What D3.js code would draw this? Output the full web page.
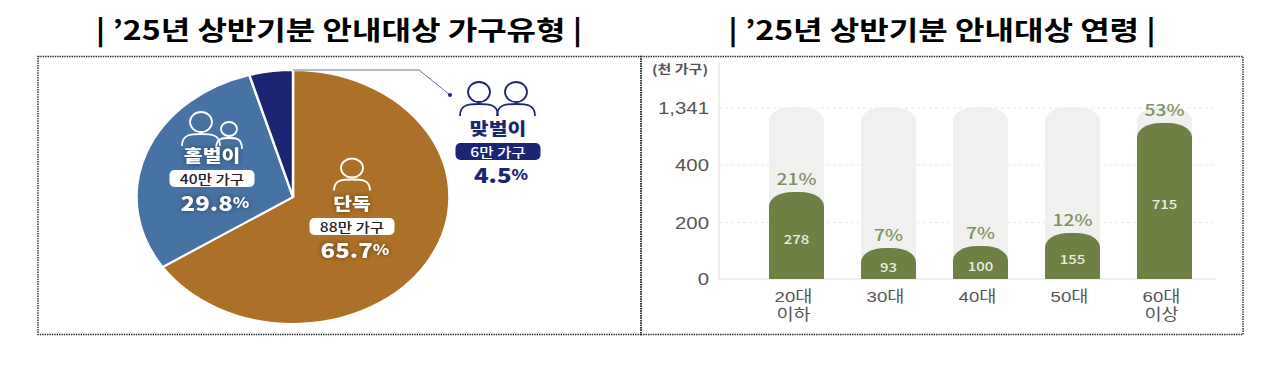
<!DOCTYPE html>
<html>
<head>
<meta charset="utf-8">
<script src="https://cdn.jsdelivr.net/npm/d3@7"></script>
<style>
    html, body { margin: 0; padding: 0; background: #fff; }
    svg { display: block; }
    text { font-family: "Noto Sans CJK KR", "Noto Sans", sans-serif; }
    .title { font-size: 26.7px; font-weight: 700; fill: #000; text-anchor: middle; }
    .onPie { filter: drop-shadow(0 0 2px rgba(0,0,0,0.45)); }
</style>
</head>
<body>
<div id="chart"></div>
<script>
// household type pie
const pieLabels = ["단독", "홑벌이", "맞벌이"];
const pieShares = [65.7, 29.8, 4.5];
const pieCounts = ["88만 가구", "40만 가구", "6만 가구"];
const pieColors = ["#AC7028", "#4673A3", "#1B2573"];

// age group bars
const ageLines = [["20대", "이하"], ["30대"], ["40대"], ["50대"], ["60대", "이상"]];
const ageValues = [278, 93, 100, 155, 715];
const agePercents = ["21%", "7%", "7%", "12%", "53%"];
const tickValues = [0, 200, 400, 1341];
const tickLabels = ["0", "200", "400", "1,341"];

const stretch = 1.2;   // the source image is wider than it is tall

const svg = d3.select("#chart").append("svg")
    .attr("width", 1280).attr("height", 368);

// stretched text, like the rest of the picture
function addText(parent, x, y, str, size, weight, color, cls) {
    return parent.append("text")
        .attr("transform", "translate(" + x + "," + y + ") scale(" + stretch + ",1)")
        .attr("text-anchor", "middle")
        .attr("dominant-baseline", "central")
        .attr("class", cls || null)
        .style("font-size", size + "px")
        .style("font-weight", weight)
        .style("fill", color)
        .text(str);
}

// titles
svg.append("text").attr("class", "title")
    .attr("transform", "translate(339,40) scale(" + stretch + ",1)")
    .text("| ’25년 상반기분 안내대상 가구유형 |");
svg.append("text").attr("class", "title")
    .attr("transform", "translate(942,40) scale(" + stretch + ",1)")
    .text("| ’25년 상반기분 안내대상 연령 |");

// dotted frames
[[38, 603], [641, 602]].forEach(function(f) {
    svg.append("rect")
        .attr("x", f[0]).attr("y", 56.5)
        .attr("width", f[1]).attr("height", 278)
        .attr("fill", "none")
        .attr("stroke", "#222")
        .attr("stroke-width", 1.4)
        .attr("stroke-dasharray", "1.4,1");
});

// ---- pie ----
const pieG = svg.append("g").attr("transform", "translate(293,197) scale(1.232,1)");
const pie = d3.pie().sort(null);
const arc = d3.arc().innerRadius(0).outerRadius(127);

pieG.selectAll("path")
    .data(pie(pieShares))
    .join("path")
    .attr("d", arc)
    .attr("fill", (d, i) => pieColors[i])
    .attr("stroke", "#fff")
    .attr("stroke-width", 2);

// leader line to the small slice
svg.append("path")
    .attr("d", "M293,70H419L450,95")
    .attr("fill", "none")
    .attr("stroke", "#6C72A6")
    .attr("stroke-width", 1);
svg.append("circle").attr("cx", 450).attr("cy", 95).attr("r", 2).attr("fill", pieColors[2]);

// person icon: head and shoulders
function person(parent, cx, headY, rx, ry, bodyW, bodyH, color) {
    parent.append("ellipse")
        .attr("cx", cx).attr("cy", headY)
        .attr("rx", rx).attr("ry", ry)
        .attr("fill", "none").attr("stroke", color).attr("stroke-width", 1.8);
    const top = headY + ry + 2;
    parent.append("path")
        .attr("d", "M" + (cx - bodyW) + "," + (top + bodyH) +
            "C" + (cx - bodyW) + "," + top + " " + (cx - bodyW * 0.5) + "," + top + " " + cx + "," + top +
            "C" + (cx + bodyW * 0.5) + "," + top + " " + (cx + bodyW) + "," + top + " " + (cx + bodyW) + "," + (top + bodyH))
        .attr("fill", "none").attr("stroke", color).attr("stroke-width", 1.8);
}

person(svg, 352, 168, 11, 9.5, 18, 11, "#fff");
person(svg, 201, 122, 11, 10, 19, 12, "#fff");
person(svg, 229, 129, 8, 7, 13, 11, "#fff");
person(svg, 479, 92, 11, 10, 19, 12, pieColors[2]);
person(svg, 516, 92, 11, 10, 19, 12, pieColors[2]);

// slice captions
function caption(i, cx, nameY, pillY, pctY, pillFill, pillText, mainColor, cls) {
    addText(svg, cx, nameY - 1, pieLabels[i], 17, 800, mainColor, cls);
    svg.append("rect")
        .attr("x", cx - 42.5).attr("y", pillY)
        .attr("width", 85).attr("height", 17).attr("rx", 5)
        .attr("fill", pillFill);
    addText(svg, cx, pillY + 8.5, pieCounts[i], 13, 500, pillText);
    const pct = addText(svg, cx + 3, pctY, "", 20, 800, mainColor, cls);
    pct.append("tspan").text(pieShares[i]);
    pct.append("tspan").style("font-size", "14px").text("%");
}

caption(0, 352, 203, 218, 249, "#fff", "#222", "#fff", "onPie");
caption(1, 212, 155, 170, 202, "#fff", "#222", "#fff", "onPie");
caption(2, 498, 128, 143, 174, pieColors[2], "#fff", pieColors[2]);

// ---- bars ----
const x = d3.scalePoint()
    .domain(d3.range(ageValues.length))
    .range([796.5, 1164.5]);

// the axis in the picture is broken, its ticks are not evenly spaced
const yAxisScale = d3.scaleLinear()
    .domain(tickValues)
    .range([279, 222.5, 165, 108]);

// bars do not follow the ticks in the source, so they get their own piecewise scale
const yBar = d3.scaleLinear()
    .domain([0, 96, 155, 278, 715])
    .range([279, 247, 233, 192, 123]);

const barW = 55;

// rounded top bar
function barPath(cx, top, bottom) {
    const rx = 24, ry = 14, hw = barW / 2;
    return "M" + (cx - hw) + "," + bottom + "V" + (top + ry) +
        "A" + rx + "," + ry + " 0 0 1 " + (cx - hw + rx) + "," + top +
        "H" + (cx + hw - rx) +
        "A" + rx + "," + ry + " 0 0 1 " + (cx + hw) + "," + (top + ry) +
        "V" + bottom + "Z";
}

// axis
const axis = svg.append("g")
    .attr("transform", "translate(719,0)")
    .call(d3.axisLeft(yAxisScale)
        .tickValues(tickValues)
        .tickSize(0)
        .tickFormat((d, i) => tickLabels[i]));
axis.select(".domain").remove();
axis.selectAll("text")
    .attr("x", 0).attr("dy", null)
    .attr("dominant-baseline", "central")
    .attr("transform", "translate(-10,0) scale(" + stretch + ",1)")
    .style("font-family", "'Liberation Sans', sans-serif")
    .style("font-size", "17px")
    .style("fill", "#555");

// grid
svg.selectAll(".grid")
    .data(tickValues.slice(1))
    .join("line")
    .attr("class", "grid")
    .attr("x1", 719).attr("x2", 1216)
    .attr("y1", d => yAxisScale(d)).attr("y2", d => yAxisScale(d))
    .attr("stroke", "#E8E8E8")
    .attr("stroke-dasharray", "3,3");

svg.append("line")
    .attr("x1", 719).attr("x2", 719).attr("y1", 62).attr("y2", 279)
    .attr("stroke", "#E4E4E4").attr("stroke-width", 1.2);
svg.append("line")
    .attr("x1", 719).attr("x2", 1216).attr("y1", 279).attr("y2", 279)
    .attr("stroke", "#EDEDED").attr("stroke-width", 1.5);

addText(svg, 680, 69, "(천 가구)", 12.5, 700, "#555");

// background bars
svg.selectAll(".barBg")
    .data(ageValues)
    .join("path")
    .attr("class", "barBg")
    .attr("d", (d, i) => barPath(x(i), yAxisScale(1341) - 1, 279))
    .attr("fill", "#F0F0EF");

// value bars
svg.selectAll(".bar")
    .data(ageValues)
    .join("path")
    .attr("class", "bar")
    .attr("d", (d, i) => barPath(x(i), yBar(d), 279))
    .attr("fill", "#6F8045");

ageValues.forEach(function(d, i) {
    const top = yBar(d);
    addText(svg, x(i), (top + 279) / 2 + 3, d, 12.5, 500, "#E9EDE0");
    addText(svg, x(i), top - 14, agePercents[i], 16, 500, "#7F9160");

    // Liberation first: its line box is short enough for the tight two line labels
    ageLines[i].forEach(function(line, k) {
        addText(svg, x(i) - 3, 297 + k * 18, line, 15.5, 400, "#555")
            .style("font-family", "'Liberation Sans', 'Noto Sans CJK KR', sans-serif");
    });
});
</script>
</body>
</html>
